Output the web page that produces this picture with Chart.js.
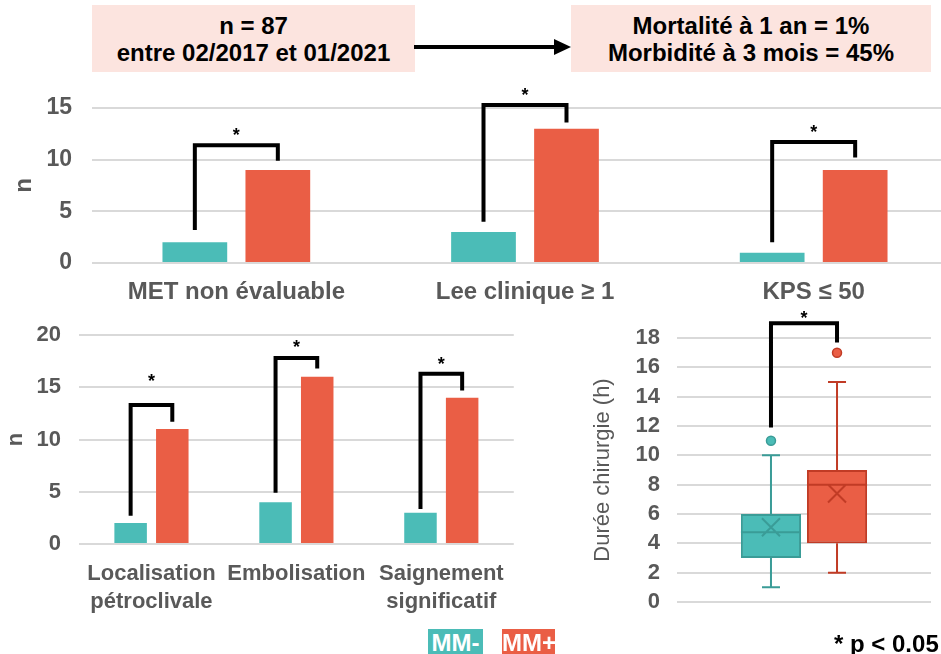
<!DOCTYPE html>
<html lang="fr">
<head>
<meta charset="utf-8">
<script src="https://cdn.jsdelivr.net/npm/chart.js@4.4.1/dist/chart.umd.min.js"></script>
<style>
  html, body { margin: 0; padding: 0; background: #fff; }
  body { width: 941px; height: 654px; position: relative; overflow: hidden; font-family: "Liberation Sans", Arial, sans-serif; }
  canvas { position: absolute; }
  .box { position: absolute; background: #fce4df; color: #000; font-weight: bold; font-size: 24px; text-align: center; line-height: 27px; box-sizing: border-box; padding-top: 7px; white-space: nowrap; }
  .leg { position: absolute; color: #fff; font-weight: bold; font-size: 24px; line-height: 27px; text-align: center; }
  #note { position: absolute; left: 834px; top: 631px; font-weight: bold; font-size: 24px; line-height: 26px; color: #000; white-space: nowrap; }
</style>
</head>
<body>
<div class="box" style="left:92px; top:5px; width:323px; height:67px;">n = 87<br>entre 02/2017 et 01/2021</div>
<div class="box" style="left:571px; top:5px; width:360px; height:67px;">Mortalité à 1 an = 1%<br>Morbidité à 3 mois = 45%</div>
<svg style="position:absolute; left:410px; top:36px;" width="165" height="22">
  <line x1="4" y1="11" x2="146" y2="11" stroke="#000" stroke-width="4"/>
  <polygon points="144,3 161,11 144,19" fill="#000"/>
</svg>

<canvas id="topChart" style="left:0; top:68px;"></canvas>
<canvas id="bottomChart" style="left:0; top:295px;"></canvas>
<canvas id="boxChart" style="left:580px; top:300px;"></canvas>

<div class="leg" style="left:428px; top:629px; width:55px; height:28px; background:#4bbcb7;">MM-</div>
<div class="leg" style="left:502px; top:629px; width:53px; height:28px; background:#ea5e45;">MM+</div>
<div id="note">* p &lt; 0.05</div>

<script>
// Données
const topCategories = ['MET non évaluable', 'Lee clinique ≥ 1', 'KPS ≤ 50'];
const topMMminus = [2, 3, 1];
const topMMplus = [9, 13, 9];
const topBracketLeft = [3.2, 4.0, 2.0];
const topBracketTop = [11.4, 15.3, 11.7];
const topBracketRight = [9.9, 13.6, 10.2];
const topStar = [12.7, 16.5, 13.0];

const bottomCategories = [['Localisation', 'pétroclivale'], 'Embolisation', ['Saignement', 'significatif']];
const bottomMMminus = [2, 4, 3];
const bottomMMplus = [11, 16, 14];
const bottomBracketLeft = [2.7, 4.9, 3.35];
const bottomBracketTop = [13.3, 17.8, 16.3];
const bottomBracketRight = [11.7, 16.8, 14.7];
const bottomStar = [15.9, 19.1, 17.5];

// Boîtes à moustaches : MM-, MM+
const boxMin = [1, 2];
const boxQ1 = [3, 4];
const boxMedian = [4.75, 8];
const boxQ3 = [6, 9];
const boxMax = [10, 15];
const boxMean = [5.1, 7.4];
const boxOutliers = [[11], [17]];
const boxBracket = { left: 11.9, top: 19.0, right: 17.7, star: 19.6 };

const TEAL = '#4bbcb7';
const ORANGE = '#ea5e45';
const TEAL_DARK = '#3a9c97';
const ORANGE_DARK = '#c13b25';
const GRAY = '#595959';
const GRID = '#d9d9d9';
const FONT = '"Liberation Sans", Arial, sans-serif';

// Crochet de significativité entre les deux barres d'une catégorie
function bracketPlugin(left, top, right, star) {
    return {
        id: 'brackets',
        afterDatasetsDraw(chart) {
            const ctx = chart.ctx;
            const y = chart.scales.y;
            const a = chart.getDatasetMeta(0).data;
            const b = chart.getDatasetMeta(1).data;
            ctx.save();
            ctx.strokeStyle = '#000';
            ctx.lineWidth = 4;
            ctx.lineJoin = 'miter';
            for (let i = 0; i < left.length; i++) {
                const x1 = a[i].x, x2 = b[i].x;
                ctx.beginPath();
                ctx.moveTo(x1, y.getPixelForValue(left[i]));
                ctx.lineTo(x1, y.getPixelForValue(top[i]));
                ctx.lineTo(x2, y.getPixelForValue(top[i]));
                ctx.lineTo(x2, y.getPixelForValue(right[i]));
                ctx.stroke();
                ctx.fillStyle = '#000';
                ctx.font = 'bold 18px ' + FONT;
                ctx.textAlign = 'center';
                ctx.textBaseline = 'middle';
                ctx.fillText('*', (x1 + x2) / 2, y.getPixelForValue(star[i]) + 4);
            }
            ctx.restore();
        }
    };
}

function makeBarChart(id, width, height, labels, minus, plus, yMax, yWidth, xHeight, o) {
    const canvas = document.getElementById(id);
    canvas.width = width;
    canvas.height = height;
    return new Chart(canvas.getContext('2d'), {
        type: 'bar',
        data: {
            labels: labels,
            datasets: [
                { label: 'MM-', data: minus, backgroundColor: TEAL, barPercentage: 0.78, categoryPercentage: 0.575 },
                { label: 'MM+', data: plus, backgroundColor: ORANGE, barPercentage: 0.78, categoryPercentage: 0.575 }
            ]
        },
        options: {
            responsive: false,
            animation: false,
            layout: { padding: { top: 40, right: 2, left: 0, bottom: 0 } },
            plugins: { legend: { display: false }, tooltip: { enabled: false } },
            scales: {
                x: {
                    grid: { display: false, drawTicks: false },
                    border: { display: false },
                    ticks: { color: GRAY, font: { family: FONT, size: o.xSize, weight: 'bold', lineHeight: 1.27 }, padding: o.xPad, maxRotation: 0, autoSkip: false },
                    afterFit(s) { s.height = xHeight; }
                },
                y: {
                    min: 0, max: yMax,
                    grid: { color: GRID, lineWidth: 2, drawTicks: false },
                    border: { display: false },
                    ticks: { stepSize: 5, autoSkip: false, color: GRAY, font: { family: FONT, size: o.ySize, weight: 'bold' }, padding: o.yPad },
                    title: { display: true, text: 'n', color: GRAY, font: { family: FONT, size: o.nSize, weight: 'bold' }, padding: { top: o.nPad, bottom: 0 } },
                    afterFit(s) { s.width = yWidth; }
                }
            }
        },
        plugins: [o.br]
    });
}

makeBarChart('topChart', 960, 247, topCategories, topMMminus, topMMplus, 15, 92, 52, {
    xSize: 24, xPad: 14, ySize: 23, yPad: 20, nSize: 24, nPad: 10,
    br: bracketPlugin(topBracketLeft, topBracketTop, topBracketRight, topStar)
});

makeBarChart('bottomChart', 520, 359, bottomCategories, bottomMMminus, bottomMMplus, 20, 79, 110, {
    xSize: 22, xPad: 16, ySize: 22, yPad: 18, nSize: 22, nPad: 3,
    br: bracketPlugin(bottomBracketLeft, bottomBracketTop, bottomBracketRight, bottomStar)
});

// Boîtes à moustaches : moustaches, médiane, moyenne, valeurs extrêmes
const boxPlugin = {
    id: 'boxparts',
    afterDatasetsDraw(chart) {
        const ctx = chart.ctx;
        const y = chart.scales.y;
        const darks = [TEAL_DARK, ORANGE_DARK];
        const fills = [TEAL, ORANGE];
        ctx.save();
        for (let i = 0; i < 2; i++) {
            const bar = chart.getDatasetMeta(i).data[0];
            const cx = bar.x, hw = bar.width / 2;
            ctx.strokeStyle = darks[i];
            ctx.lineWidth = 2;
            ctx.beginPath();
            ctx.moveTo(cx, y.getPixelForValue(boxQ3[i]));
            ctx.lineTo(cx, y.getPixelForValue(boxMax[i]));
            ctx.moveTo(cx - 9, y.getPixelForValue(boxMax[i]));
            ctx.lineTo(cx + 9, y.getPixelForValue(boxMax[i]));
            ctx.moveTo(cx, y.getPixelForValue(boxQ1[i]));
            ctx.lineTo(cx, y.getPixelForValue(boxMin[i]));
            ctx.moveTo(cx - 9, y.getPixelForValue(boxMin[i]));
            ctx.lineTo(cx + 9, y.getPixelForValue(boxMin[i]));
            ctx.moveTo(cx - hw, y.getPixelForValue(boxMedian[i]));
            ctx.lineTo(cx + hw, y.getPixelForValue(boxMedian[i]));
            const my = y.getPixelForValue(boxMean[i]);
            ctx.moveTo(cx - 9, my - 9); ctx.lineTo(cx + 9, my + 9);
            ctx.moveTo(cx + 9, my - 9); ctx.lineTo(cx - 9, my + 9);
            ctx.stroke();
            boxOutliers[i].forEach(v => {
                ctx.beginPath();
                ctx.arc(cx, y.getPixelForValue(v), 4.5, 0, Math.PI * 2);
                ctx.fillStyle = fills[i];
                ctx.fill();
                ctx.lineWidth = 1.5;
                ctx.stroke();
            });
        }
        // crochet *
        const x1 = chart.getDatasetMeta(0).data[0].x;
        const x2 = chart.getDatasetMeta(1).data[0].x;
        ctx.strokeStyle = '#000';
        ctx.lineWidth = 4;
        ctx.beginPath();
        ctx.moveTo(x1, y.getPixelForValue(boxBracket.left));
        ctx.lineTo(x1, y.getPixelForValue(boxBracket.top));
        ctx.lineTo(x2, y.getPixelForValue(boxBracket.top));
        ctx.lineTo(x2, y.getPixelForValue(boxBracket.right));
        ctx.stroke();
        ctx.fillStyle = '#000';
        ctx.font = 'bold 18px ' + FONT;
        ctx.textAlign = 'center';
        ctx.textBaseline = 'middle';
        ctx.fillText('*', (x1 + x2) / 2, y.getPixelForValue(boxBracket.star) + 4);
        ctx.restore();
    }
};

const boxCanvas = document.getElementById('boxChart');
boxCanvas.width = 361;
boxCanvas.height = 354;
new Chart(boxCanvas.getContext('2d'), {
    type: 'bar',
    data: {
        labels: [''],
        datasets: [
            { label: 'MM-', data: [[boxQ1[0], boxQ3[0]]], backgroundColor: TEAL, borderColor: TEAL_DARK, borderWidth: 2, borderSkipped: false, barPercentage: 0.91, categoryPercentage: 0.52 },
            { label: 'MM+', data: [[boxQ1[1], boxQ3[1]]], backgroundColor: ORANGE, borderColor: ORANGE_DARK, borderWidth: 2, borderSkipped: false, barPercentage: 0.91, categoryPercentage: 0.52 }
        ]
    },
    options: {
        responsive: false,
        animation: false,
        layout: { padding: { top: 38, right: 10, left: 0, bottom: 0 } },
        plugins: { legend: { display: false }, tooltip: { enabled: false } },
        scales: {
            x: {
                grid: { display: false, drawTicks: false },
                border: { display: false },
                ticks: { display: false },
                afterFit(s) { s.height = 52; }
            },
            y: {
                min: 0, max: 18,
                grid: { color: GRID, lineWidth: 2, drawTicks: false },
                border: { display: false },
                ticks: { stepSize: 2, autoSkip: false, color: GRAY, font: { family: FONT, size: 22, weight: 'bold', lineHeight: 1 }, padding: 17 },
                title: { display: true, text: 'Durée chirurgie (h)', color: GRAY, font: { family: FONT, size: 22 }, padding: { top: 10, bottom: 0 } },
                afterFit(s) { s.width = 97; }
            }
        }
    },
    plugins: [boxPlugin]
});
</script>
</body>
</html>
